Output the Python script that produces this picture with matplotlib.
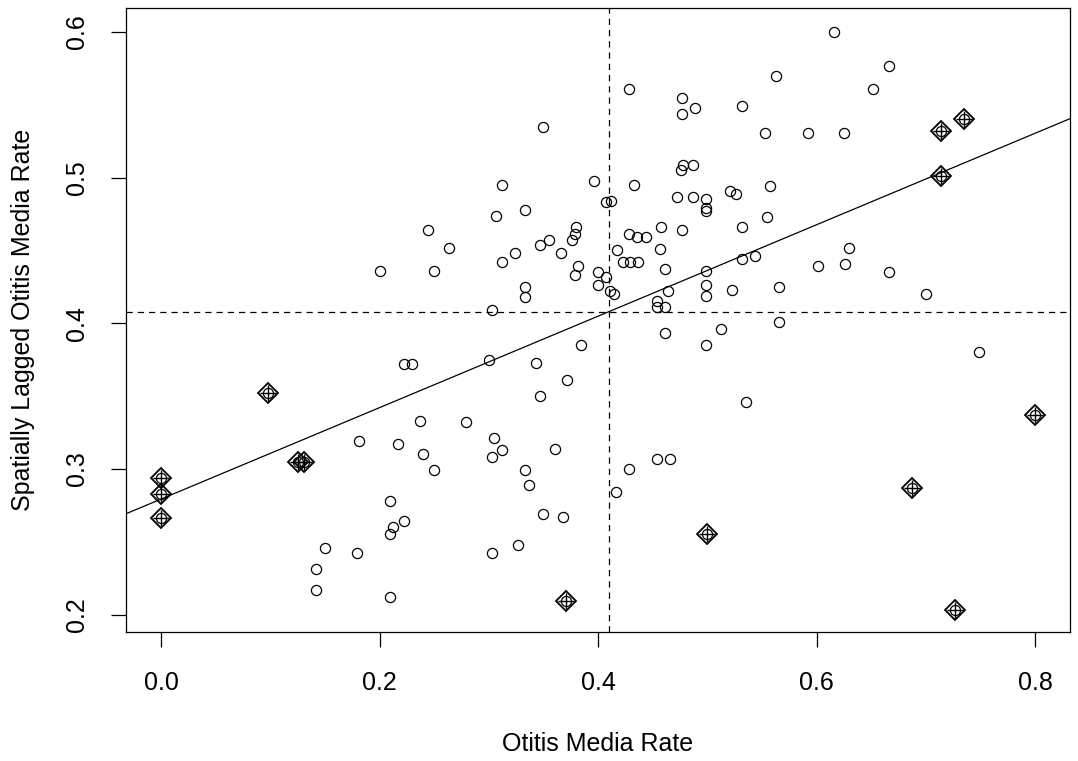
import numpy as np
import matplotlib
matplotlib.use("Agg")
import matplotlib.pyplot as plt

plt.rcParams['font.family'] = ['Liberation Sans', 'DejaVu Sans']

# otitis media rate (x) and its spatial lag (wx)
rate = np.array([
    0.616, 0.666, 0.563, 0.428, 0.652, 0.477, 0.489, 0.532, 0.477, 0.350,
    0.553, 0.592, 0.625, 0.478, 0.476, 0.487, 0.312, 0.396, 0.433, 0.472,
    0.487, 0.499, 0.499, 0.499, 0.521, 0.526, 0.407, 0.412, 0.307, 0.333,
    0.380, 0.379, 0.376, 0.355, 0.347, 0.366, 0.324, 0.312, 0.264, 0.428,
    0.436, 0.444, 0.458, 0.477, 0.532, 0.457, 0.417, 0.423, 0.429, 0.437,
    0.461, 0.382, 0.379, 0.400, 0.400, 0.407, 0.411, 0.415, 0.333, 0.333,
    0.303, 0.499, 0.499, 0.499, 0.532, 0.544, 0.464, 0.523, 0.454, 0.454,
    0.461, 0.513, 0.244, 0.200, 0.250, 0.557, 0.555, 0.630, 0.601, 0.626,
    0.666, 0.700, 0.566, 0.566, 0.749, 0.222, 0.230, 0.237, 0.181, 0.217,
    0.240, 0.250, 0.210, 0.222, 0.212, 0.210, 0.150, 0.179, 0.142, 0.142,
    0.210, 0.300, 0.343, 0.384, 0.372, 0.347, 0.279, 0.305, 0.312, 0.303,
    0.361, 0.333, 0.337, 0.350, 0.368, 0.327, 0.303, 0.461, 0.499, 0.535,
    0.428, 0.454, 0.466, 0.416,
])
lagged = np.array([
    0.600, 0.577, 0.570, 0.561, 0.561, 0.555, 0.548, 0.549, 0.544, 0.535,
    0.531, 0.531, 0.531, 0.509, 0.505, 0.509, 0.495, 0.498, 0.495, 0.487,
    0.487, 0.485, 0.479, 0.477, 0.491, 0.489, 0.483, 0.484, 0.474, 0.478,
    0.466, 0.461, 0.457, 0.457, 0.454, 0.448, 0.448, 0.442, 0.452, 0.461,
    0.459, 0.459, 0.466, 0.464, 0.466, 0.451, 0.450, 0.442, 0.442, 0.442,
    0.437, 0.439, 0.433, 0.435, 0.426, 0.432, 0.422, 0.420, 0.425, 0.418,
    0.409, 0.436, 0.426, 0.419, 0.444, 0.446, 0.422, 0.423, 0.415, 0.411,
    0.411, 0.396, 0.464, 0.436, 0.436, 0.494, 0.473, 0.452, 0.439, 0.441,
    0.435, 0.420, 0.425, 0.401, 0.380, 0.372, 0.372, 0.333, 0.319, 0.317,
    0.310, 0.299, 0.278, 0.264, 0.260, 0.255, 0.246, 0.242, 0.231, 0.217,
    0.212, 0.375, 0.373, 0.385, 0.361, 0.350, 0.332, 0.321, 0.313, 0.308,
    0.314, 0.299, 0.289, 0.269, 0.267, 0.248, 0.242, 0.393, 0.385, 0.346,
    0.300, 0.307, 0.307, 0.284,
])

# influential observations (drawn with the diamond symbol)
infl_rate = np.array([0.0, 0.0, 0.0, 0.098, 0.125, 0.131, 0.371, 0.500,
                      0.687, 0.727, 0.800, 0.714, 0.735, 0.714])
infl_lagged = np.array([0.294, 0.283, 0.266, 0.352, 0.305, 0.305, 0.209, 0.255,
                        0.287, 0.203, 0.337, 0.532, 0.540, 0.501])

# reference lines and the fitted slope (Moran's I)
mean_rate = 0.41
mean_lagged = 0.408
slope = 0.314

fig = plt.figure(figsize=(10.78, 7.61), dpi=100)
ax = fig.add_axes([0.1169, 0.1695, 0.8757, 0.82])

all_x = np.concatenate([rate, infl_rate])
all_y = np.concatenate([lagged, infl_lagged])

ax.plot(all_x, all_y, 'o', ms=7.3, mfc='none', mec='black', mew=0.9)
ax.plot(infl_rate, infl_lagged, 'D', ms=10.2, mfc='none', mec='black', mew=1.3)
ax.plot(infl_rate, infl_lagged, '+', ms=12, mec='black', mew=1.0)

xl = (-0.032, 0.832)
yl = (0.188, 0.6165)
xs = np.array(xl)
ax.plot(xs, mean_lagged + slope * (xs - mean_rate), color='black', lw=0.9)
ax.axvline(mean_rate, color='black', lw=0.9, ls=(0, (5, 4)))
ax.axhline(mean_lagged, color='black', lw=0.9, ls=(0, (5, 4)))

ax.set_xlim(xl)
ax.set_ylim(yl)
ax.set_xticks([0.0, 0.2, 0.4, 0.6, 0.8])
ax.set_xticklabels(['0.0', '0.2', '0.4', '0.6', '0.8'])
ax.set_yticks([0.2, 0.3, 0.4, 0.5, 0.6])
ax.set_yticklabels(['0.2', '0.3', '0.4', '0.5', '0.6'], rotation=90, va='center')
ax.tick_params(length=11, width=0.9, labelsize=18)
ax.tick_params(axis='x', pad=17)
ax.tick_params(axis='y', pad=16)
for s in ax.spines.values():
    s.set_linewidth(0.9)

ax.set_xlabel('Otitis Media Rate', fontsize=18, labelpad=27)
ax.set_ylabel('Spatially Lagged Otitis Media Rate', fontsize=18, labelpad=21)

fig.savefig('out.png', dpi=100)
